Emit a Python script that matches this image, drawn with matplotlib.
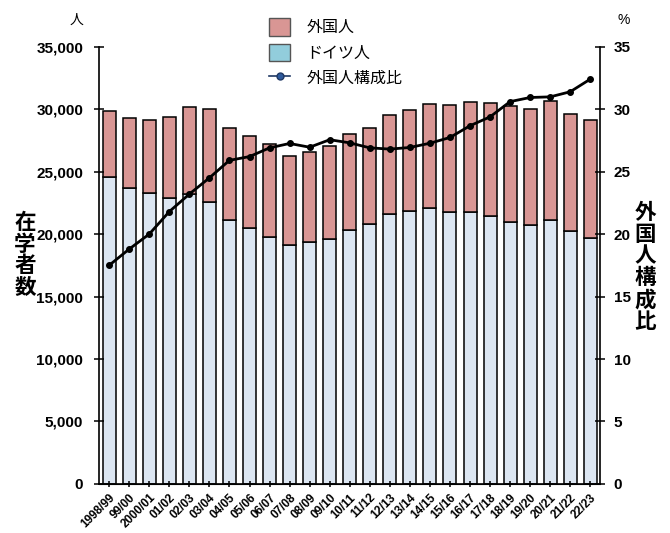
import matplotlib
matplotlib.use("Agg")
from matplotlib import pyplot as plt
from matplotlib.patches import Patch
from matplotlib.lines import Line2D

plt.rcParams['font.family'] = ['Noto Sans CJK JP', 'DejaVu Sans']

years = ["1998/99", "99/00", "2000/01", "01/02", "02/03", "03/04", "04/05", "05/06",
         "06/07", "07/08", "08/09", "09/10", "10/11", "11/12", "12/13", "13/14",
         "14/15", "15/16", "16/17", "17/18", "18/19", "19/20", "20/21", "21/22", "22/23"]
german = [24600, 23720, 23270, 22920, 23190, 22600, 21110, 20520, 19800, 19100,
          19400, 19640, 20340, 20800, 21600, 21860, 22070, 21800, 21760, 21460,
          20950, 20740, 21110, 20260, 19670]
foreign = [5250, 5560, 5870, 6460, 6990, 7400, 7370, 7340, 7400, 7160,
           7180, 7420, 7660, 7680, 7940, 8060, 8330, 8540, 8800, 8990,
           9260, 9260, 9500, 9340, 9450]
foreign_share = [17.5, 18.8, 20.0, 21.8, 23.2, 24.5, 25.9, 26.2, 26.9, 27.25,
                 26.95, 27.55, 27.3, 26.9, 26.8, 26.93, 27.27, 27.73, 28.67, 29.38,
                 30.6, 30.93, 30.98, 31.39, 32.4]

pink = "#D99694"
light_blue = "#DCE6F2"
cyan = "#92CDDC"
num_font = ['Liberation Sans', 'DejaVu Sans']

fig = plt.figure(figsize=(6.7, 5.33), dpi=100)
ax = fig.add_axes([0.148, 0.092, 0.748, 0.8205])

x = range(len(years))
ax.bar(x, german, width=0.65, color=light_blue, edgecolor="black", linewidth=1.1)
ax.bar(x, foreign, width=0.65, bottom=german, color=pink, edgecolor="black", linewidth=1.1)
ax.set_xlim(-0.5, len(years) - 0.5)
ax.set_ylim(0, 35000)
ax.set_yticks(range(0, 35001, 5000))
ax.set_yticklabels([f"{v:,}" for v in range(0, 35001, 5000)], family=num_font,
                   fontweight="bold", fontsize=11)
ax.set_xticks(list(x))
ax.set_xticklabels(years, rotation=45, ha="right", rotation_mode="anchor",
                   family=num_font, fontweight="bold", fontsize=8.5)
ax.tick_params(axis="y", direction="inout", length=7, width=1.1, pad=8)
ax.tick_params(axis="x", direction="inout", length=5, width=1.1, pad=3)
ax.spines["top"].set_visible(False)
ax.spines["right"].set_visible(False)
for s in ["left", "bottom"]:
    ax.spines[s].set_linewidth(1.2)

ax2 = ax.twinx()
ax2.plot(list(x), foreign_share, color="black", linewidth=2.0, marker="o", markersize=4)
ax2.set_ylim(0, 35)
ax2.set_yticks(range(0, 36, 5))
ax2.set_yticklabels([str(v) for v in range(0, 36, 5)], family=num_font,
                    fontweight="bold", fontsize=11)
ax2.tick_params(axis="y", direction="inout", length=7, width=1.1, pad=6)
ax2.spines["top"].set_visible(False)
ax2.spines["left"].set_visible(False)
ax2.spines["right"].set_linewidth(1.2)

fig.text(77 / 670, 1 - 20 / 533, "人", ha="center", va="center", fontsize=10)
fig.text(624 / 670, 1 - 20 / 533, "%", ha="center", va="center", fontsize=10,
         family=num_font)
fig.text(25 / 670, 1 - 255 / 533, "在\n学\n者\n数", ha="center", va="center",
         fontsize=15.5, fontweight="bold", linespacing=1.02)
fig.text(645 / 670, 1 - 267 / 533, "外\n国\n人\n構\n成\n比", ha="center", va="center",
         fontsize=15.5, fontweight="bold", linespacing=1.05)

handles = [Patch(facecolor=pink, edgecolor="#555555"),
           Patch(facecolor=cyan, edgecolor="#555555"),
           Line2D([], [], color="#1F3864", linewidth=1.2, marker="o", markersize=5,
                  markerfacecolor="#2E5A9C", markeredgecolor="#1F3864")]
fig.legend(handles, ["外国人", "ドイツ人", "外国人構成比"], loc="upper left",
           bbox_to_anchor=(255 / 670, 1 - 4 / 533), frameon=False, fontsize=11.5,
           handlelength=1.3, handleheight=1.3, labelspacing=0.45, handletextpad=1.0)

fig.savefig("out.png", dpi=100)
